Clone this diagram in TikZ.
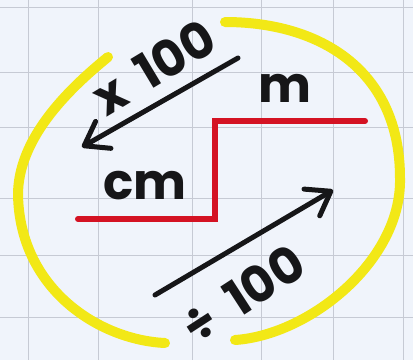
\documentclass[tikz,border=0pt]{standalone}
\usepackage{fontspec}
\setmainfont{Poppins}
\usetikzlibrary{arrows.meta}
\definecolor{paper}{RGB}{240,244,251}
\definecolor{gridc}{RGB}{198,202,212}
\definecolor{hl}{RGB}{242,232,22}
\definecolor{stepred}{RGB}{212,18,35}
\definecolor{ink}{RGB}{22,22,24}
\tikzset{
  gridline/.style={gridc, line width=0.8pt},
  hlarc/.style={hl, line width=10pt, line cap=round, line join=round},
  stepline/.style={stepred, line width=6pt, line cap=round, line join=miter},
  inkarrow/.style={ink, line width=5pt, line cap=round,
    -{Straight Barb[length=22pt,width=31pt,line width=5pt,line cap=round,round]}},
  label/.style={ink, font=\fontsize{50}{54}\selectfont\bfseries, inner sep=0pt},
}
\begin{document}
\begin{tikzpicture}[x=1pt,y=-1pt]
\useasboundingbox (0,0) rectangle (413,360);
\fill[paper] (0,0) rectangle (413,360);
% grid
\foreach \gx in {28,98,192,261,333,403} \draw[gridline] (\gx,0) -- (\gx,360);
\foreach \gy in {7,72,127,198,255,317} \draw[gridline] (0,\gy) -- (413,\gy);
% yellow arcs
\coordinate (l0) at (108,57);
\coordinate (l1) at (18,195);
\coordinate (l2) at (165,343);
\draw[hlarc] (l0) .. controls (65,92) and (18,140) .. (l1)
                  .. controls (20,290) and (100,340) .. (l2);
\coordinate (r0) at (225,22);
\coordinate (r1) at (400,178);
\coordinate (r2) at (235,340);
\draw[hlarc] (r0) .. controls (320,22) and (400,70) .. (r1)
                  .. controls (402,260) and (310,335) .. (r2);
% red step
\coordinate (s0) at (78,219);
\coordinate (s1) at (215,219);
\coordinate (s2) at (215,121);
\coordinate (s3) at (365,121);
\draw[stepline] (s0) -- (s1) -- (s2) -- (s3);
% arrows
\coordinate (a1s) at (238,58);
\coordinate (a1e) at (82,147);
\draw[inkarrow] (a1s) -- (a1e);
\coordinate (a2s) at (155,295);
\coordinate (a2e) at (333,190);
\draw[inkarrow] (a2s) -- (a2e);
% labels
\node[label, rotate=31] (times) at (154,67) {x\hspace{0.4em}100};
\node[label, rotate=33] (divide) at (243,294) {÷\hspace{0.4em}100};
\node[label] (m) at (285,88) {m};
\node[label] (cm) at (145,186) {cm};
\end{tikzpicture}
\end{document}
